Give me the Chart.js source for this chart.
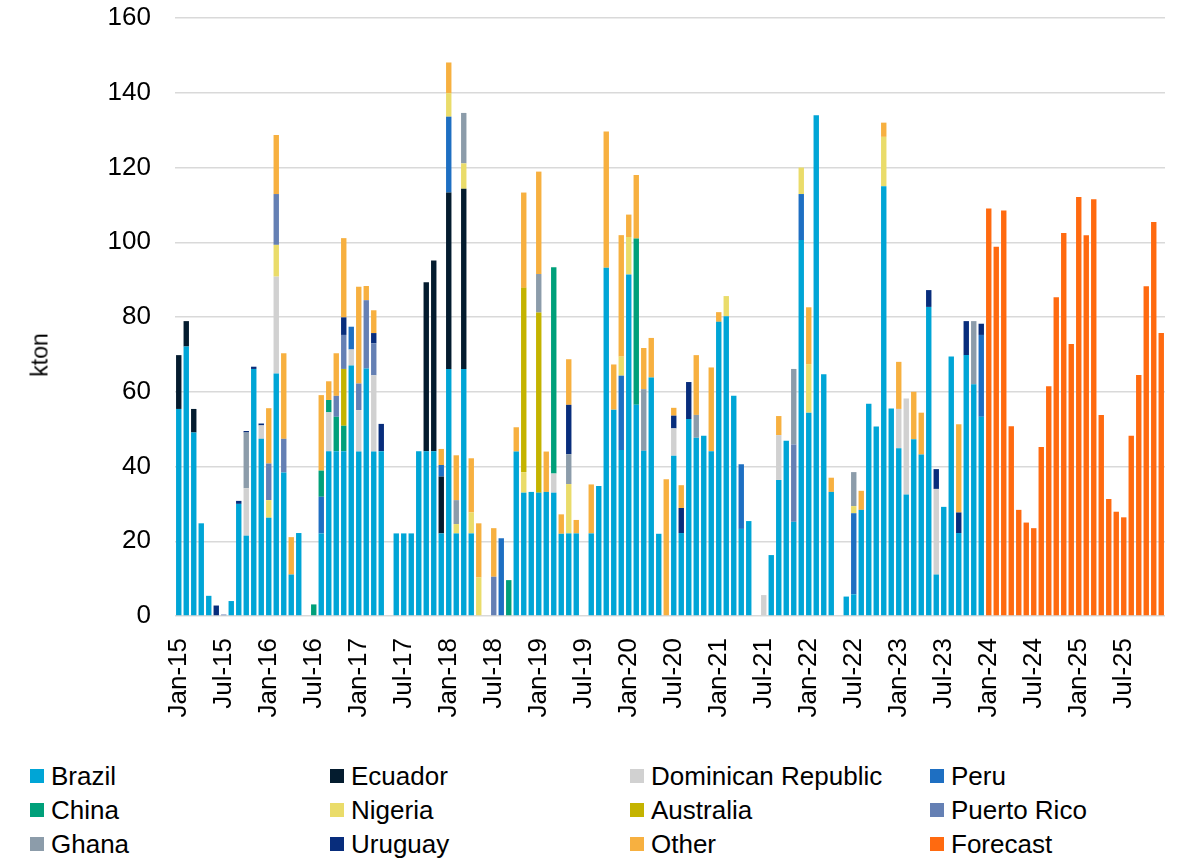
<!DOCTYPE html>
<html><head><meta charset="utf-8">
<script src="https://cdn.jsdelivr.net/npm/chart.js@4"></script>
<style>
html,body{margin:0;padding:0;background:#fff;}
#wrap{position:relative;width:1177px;height:859px;font-family:"Liberation Sans",Arial,sans-serif;color:#000;}
#c{position:absolute;left:0;top:0;}
#ytitle{position:absolute;left:40px;top:355px;transform:translate(-50%,-50%) rotate(-90deg);font-size:23px;white-space:nowrap;}
#legend{position:absolute;left:30px;top:759px;display:grid;grid-template-columns:repeat(4,300px);}
.item{display:flex;align-items:center;height:34px;font-size:26px;white-space:nowrap;}
.sw{width:14px;height:14px;margin-right:7px;flex:none;}
</style></head>
<body><div id="wrap"><canvas id="c" width="1177" height="740"></canvas><div id="ytitle">kton</div><div id="legend"></div></div>
<script>
const N = null;
const monthNames = ['Jan','Feb','Mar','Apr','May','Jun','Jul','Aug','Sep','Oct','Nov','Dec'];
const years = ['15','16','17','18','19','20','21','22','23','24','25'];
const categories = [];
years.forEach(y => monthNames.forEach(m => categories.push(m + '-' + y)));

const brazil = [
 55.4,72.1,49.1,24.8,5.4,N,N,4.0,30.0,21.5,66.1,47.4,
 26.3,64.9,38.4,11.1,22.2,N,N,22.1,44.1,44.1,44.1,67.0,
 44.0,66.2,44.0,44.1,N,22.1,22.1,22.1,44.1,44.1,44.1,22.1,
 66.1,22.1,66.1,22.1,N,N,N,N,N,44.0,33.0,33.2,
 33.0,33.2,33.0,22.0,22.1,22.1,N,22.1,34.8,93.2,55.2,44.4,
 91.4,56.5,44.2,63.8,22.0,N,42.9,22.2,52.7,47.7,48.2,44.1,
 78.7,80.2,58.9,23.3,25.4,N,N,16.3,36.4,46.9,25.2,100.6,
 54.4,134.0,64.7,33.2,N,5.2,5.8,28.4,56.8,50.7,115.0,55.5,
 44.9,32.5,47.3,43.2,82.7,11.1,29.2,69.4,22.2,69.8,62.0,53.3,
 N,N,N,N,N,N,N,N,N,N,N,N,
 N,N,N,N,N,N,N,N,N,N,N,N
];
const ecuador = [
 14.4,6.8,6.3,N,N,N,N,N,N,N,N,N,
 N,N,N,N,N,N,N,N,N,N,N,N,
 N,N,N,N,N,N,N,N,N,45.2,51.0,15.2,
 47.2,N,48.2,N,N,N,N,N,N,N,N,N,
 N,N,N,N,N,N,N,N,N,N,N,N,
 N,N,N,N,N,N,N,N,N,N,N,N,
 N,N,N,N,N,N,N,N,N,N,N,N,
 N,N,N,N,N,N,N,N,N,N,N,N,
 N,N,N,N,N,N,N,N,N,N,N,N,
 N,N,N,N,N,N,N,N,N,N,N,N,
 N,N,N,N,N,N,N,N,N,N,N,N
];
const dominican = [
 N,N,N,N,N,N,N,N,N,12.7,N,3.6,
 N,25.9,N,N,N,N,N,N,10.4,N,N,4.3,
 11.1,N,20.4,N,N,N,N,N,N,N,N,N,
 N,N,N,N,N,N,N,N,N,N,N,N,
 N,N,5.1,N,N,N,N,N,N,N,N,N,
 N,N,N,N,N,N,7.3,N,N,N,N,N,
 N,N,N,N,N,N,5.6,N,12.0,N,N,N,
 N,N,N,N,N,N,N,N,N,N,N,N,
 10.5,25.7,N,N,N,22.9,N,N,N,N,N,N,
 N,N,N,N,N,N,N,N,N,N,N,N,
 N,N,N,N,N,N,N,N,N,N,N,N
];
const peru = [
 N,N,N,N,N,N,N,N,N,N,N,N,
 N,N,N,N,N,N,N,9.8,N,N,N,6.1,
 N,N,N,N,N,N,N,N,N,N,N,3.1,
 20.3,N,N,N,N,N,N,20.8,N,N,N,N,
 N,N,N,N,N,N,N,N,N,N,N,19.9,
 N,N,N,N,N,N,N,N,N,N,N,N,
 N,N,N,17.3,N,N,N,N,N,N,N,12.3,
 N,N,N,N,N,N,21.7,N,N,N,N,N,
 N,N,N,N,N,N,N,N,N,N,N,21.9,
 N,N,N,N,N,N,N,N,N,N,N,N,
 N,N,N,N,N,N,N,N,N,N,N,N
];
const china = [
 N,N,N,N,N,N,N,N,N,N,N,N,
 N,N,N,N,N,N,3.1,7.0,3.3,9.2,6.8,N,
 N,N,N,N,N,N,N,N,N,N,N,N,
 N,N,N,N,N,N,N,N,9.6,N,N,N,
 N,N,55.2,N,N,N,N,N,N,N,N,N,
 N,44.5,N,N,N,N,N,N,N,N,N,N,
 N,N,N,N,N,N,N,N,N,N,N,N,
 N,N,N,N,N,N,N,N,N,N,N,N,
 N,N,N,N,N,N,N,N,N,N,N,N,
 N,N,N,N,N,N,N,N,N,N,N,N,
 N,N,N,N,N,N,N,N,N,N,N,N
];
const nigeria = [
 N,N,N,N,N,N,N,N,N,N,N,N,
 4.7,8.5,N,N,N,N,N,N,N,N,N,N,
 N,N,N,N,N,N,N,N,N,N,N,N,
 6.3,2.5,6.8,5.6,10.3,N,N,N,N,N,5.5,N,
 N,N,N,N,13.2,N,N,N,N,N,N,5.1,
 10.0,N,N,N,N,N,N,N,N,N,N,N,
 N,5.4,N,N,N,N,N,N,N,N,N,7.1,
 13.0,N,N,N,N,N,1.9,N,N,N,13.2,N,
 N,N,N,N,N,N,N,N,N,N,N,N,
 N,N,N,N,N,N,N,N,N,N,N,N,
 N,N,N,N,N,N,N,N,N,N,N,N
];
const australia = [
 N,N,N,N,N,N,N,N,N,N,N,N,
 N,N,N,N,N,N,N,N,N,N,15.2,N,
 N,N,N,N,N,N,N,N,N,N,N,N,
 N,N,N,N,N,N,N,N,N,N,49.3,N,
 48.2,N,N,N,N,N,N,N,N,N,N,N,
 N,N,N,N,N,N,N,N,N,N,N,N,
 N,N,N,N,N,N,N,N,N,N,N,N,
 N,N,N,N,N,N,N,N,N,N,N,N,
 N,N,N,N,N,N,N,N,N,N,N,N,
 N,N,N,N,N,N,N,N,N,N,N,N,
 N,N,N,N,N,N,N,N,N,N,N,N
];
const puertoRico = [
 N,N,N,N,N,N,0.4,N,N,N,N,N,
 9.8,13.6,9.0,N,N,N,N,N,N,5.6,9.1,N,
 7.1,18.3,8.6,N,N,N,N,N,N,N,N,N,
 N,N,N,N,N,N,10.5,N,N,N,N,N,
 N,N,N,N,N,N,N,N,N,N,N,N,
 N,N,N,N,N,N,N,N,N,N,N,N,
 N,N,N,N,N,N,N,N,N,N,20.7,N,
 N,N,N,N,N,N,N,N,N,N,N,N,
 N,N,N,N,N,N,N,N,N,N,N,N,
 N,N,N,N,N,N,N,N,N,N,N,N,
 N,N,N,N,N,N,N,N,N,N,N,N
];
const ghana = [
 N,N,N,N,N,N,N,N,N,14.9,N,N,
 N,N,N,N,N,N,N,N,N,N,N,N,
 N,N,N,N,N,N,N,N,N,N,N,N,
 N,6.4,13.5,N,N,N,N,N,N,N,N,N,
 10.3,N,N,N,8.0,N,N,N,N,N,N,N,
 N,N,16.5,N,N,N,N,N,N,6.1,N,N,
 N,N,N,N,N,N,N,N,N,N,20.2,N,
 N,N,N,N,N,N,9.1,N,N,N,N,N,
 N,N,N,N,N,N,N,N,N,N,16.9,N,
 N,N,N,N,N,N,N,N,N,N,N,N,
 N,N,N,N,N,N,N,N,N,N,N,N
];
const uruguay = [
 N,N,N,N,N,2.8,N,N,0.8,0.4,0.6,0.5,
 N,N,N,N,N,N,N,N,N,N,4.7,N,
 N,N,2.7,7.3,N,N,N,N,N,N,N,N,
 N,N,N,N,N,N,N,N,N,N,N,N,
 N,N,N,N,13.2,N,N,N,N,N,N,N,
 N,N,N,N,N,N,3.4,6.7,9.9,N,N,N,
 N,N,N,N,N,N,N,N,N,N,N,N,
 N,N,N,N,N,N,N,N,N,N,N,N,
 N,N,N,N,4.5,5.3,N,N,5.5,9.1,N,3.0,
 N,N,N,N,N,N,N,N,N,N,N,N,
 N,N,N,N,N,N,N,N,N,N,N,N
];
const other = [
 N,N,N,N,N,N,N,N,N,N,N,N,
 14.8,15.8,22.9,10.0,N,N,N,20.2,5.0,11.4,21.2,N,
 25.9,3.8,6.1,N,N,N,N,N,N,N,N,4.3,
 8.2,12.0,N,14.5,14.5,N,13.0,N,N,6.5,25.5,N,
 27.4,10.8,N,5.2,12.2,3.6,N,13.1,N,36.4,12.1,32.5,
 6.0,17.0,11.0,10.6,N,36.6,2.1,6.1,N,16.0,N,22.4,
 2.6,N,N,N,N,N,N,N,5.1,N,N,N,
 15.2,N,N,3.8,N,N,N,5.1,N,N,3.8,N,
 12.6,N,12.7,11.2,N,N,N,N,23.6,N,N,N,
 N,N,N,N,N,N,N,N,N,N,N,N,
 N,N,N,N,N,N,N,N,N,N,N,N
];
const forecast = [
 N,N,N,N,N,N,N,N,N,N,N,N,
 N,N,N,N,N,N,N,N,N,N,N,N,
 N,N,N,N,N,N,N,N,N,N,N,N,
 N,N,N,N,N,N,N,N,N,N,N,N,
 N,N,N,N,N,N,N,N,N,N,N,N,
 N,N,N,N,N,N,N,N,N,N,N,N,
 N,N,N,N,N,N,N,N,N,N,N,N,
 N,N,N,N,N,N,N,N,N,N,N,N,
 N,N,N,N,N,N,N,N,N,N,N,N,
 109.0,98.8,108.5,50.8,28.4,25.0,23.5,45.2,61.5,85.3,102.5,72.8,
 112.1,101.9,111.5,53.8,31.3,27.9,26.4,48.2,64.5,88.2,105.4,75.7
];

const seriesNames = ['Brazil','Ecuador','Dominican Republic','Peru','China','Nigeria','Australia','Puerto Rico','Ghana','Uruguay','Other','Forecast'];
const seriesData = [brazil,ecuador,dominican,peru,china,nigeria,australia,puertoRico,ghana,uruguay,other,forecast];
const seriesColors = ['#00A5D6','#041C2F','#D1D1D1','#1E6FC2','#00A07A','#EADC6A','#C4B300','#6580B4','#8C9CAA','#082D7C','#F7B040','#FF6A10'];
const yTicks = [0,20,40,60,80,100,120,140,160];

const datasets = seriesNames.map((name,i) => ({
  label: name, data: seriesData[i], backgroundColor: seriesColors[i],
  stack: 's', barPercentage: 0.72, categoryPercentage: 1.0, borderWidth: 0
}));

const FONT = '"Liberation Sans", Arial, sans-serif';
new Chart(document.getElementById('c'), {
  type: 'bar',
  data: { labels: categories, datasets },
  options: {
    responsive: false, animation: false,
    layout: { padding: { top: 18, right: 12, left: 0, bottom: 0 } },
    plugins: { legend: { display: false }, tooltip: { enabled: false } },
    scales: {
      x: {
        stacked: true,
        grid: { display: false, drawTicks: false },
        border: { display: false },
        afterFit: s => { s.height = 124; s.paddingLeft = 0; s.paddingRight = 0; },
        ticks: {
          autoSkip: false, minRotation: 90, maxRotation: 90, padding: 22,
          color: '#000', font: { family: FONT, size: 26 },
          callback: function(v, i) { const l = categories[i]; return (l.startsWith('Jan') || l.startsWith('Jul')) ? l : ''; }
        }
      },
      y: {
        stacked: true, min: 0, max: 160,
        afterBuildTicks: s => { s.ticks = yTicks.map(v => ({ value: v })); },
        afterFit: s => { s.width = 175; s.paddingTop = 0; s.paddingBottom = 0; },
        grid: { color: '#D9D9D9', lineWidth: 1.5, drawTicks: false },
        border: { display: false },
        ticks: { padding: 24, color: '#000', font: { family: FONT, size: 26 } }
      }
    }
  }
});

const lg = document.getElementById('legend');
seriesNames.forEach((name,i) => {
  const d = document.createElement('div'); d.className = 'item';
  d.innerHTML = '<span class="sw" style="background:' + seriesColors[i] + '"></span><span>' + name + '</span>';
  lg.appendChild(d);
});
</script></body></html>
